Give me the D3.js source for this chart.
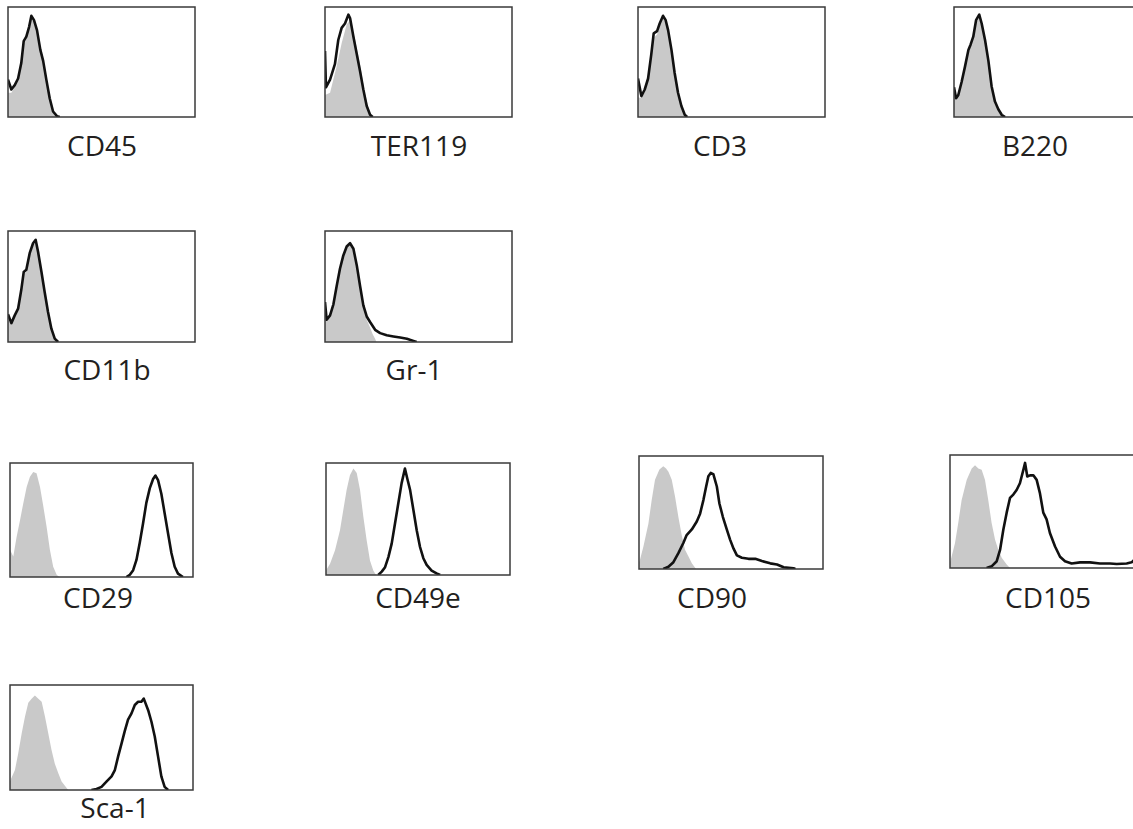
<!DOCTYPE html>
<html>
<head>
<meta charset="utf-8">
<script src="https://cdn.jsdelivr.net/npm/d3@7"></script>
<style>
  body { margin: 0; background: #fff; }
  svg { display: block; }
</style>
</head>
<body>
<svg id="chart" width="1133" height="829"></svg>
<script>
// marker names, in reading order
const markers = ["CD45", "TER119", "CD3", "B220", "CD11b", "Gr-1",
                 "CD29", "CD49e", "CD90", "CD105", "Sca-1"];

// histograms: [channel (0-100), % of box height]
// grey = isotype control, black line = stained sample
const cd45Control = [[0,22],[1.8,22],[3.6,27],[5.4,33],[7.1,47],[8.4,66],[9.8,71],[11.3,80],[12.5,89],[13.9,86],[15.5,77],[17.3,59],[18.8,49],[20.5,32],[22.3,15],[24.1,4],[26,0]];
const cd45Stained = [[0,34],[1.8,25],[3.6,29],[5.4,35],[7.1,49],[8.4,69],[9.8,73],[11.3,82],[12.5,92],[13.9,88],[15.5,79],[17.3,61],[18.8,51],[20.5,34],[22.3,17],[24.1,5],[26.3,0.6],[27.7,0]];

const ter119Control = [[0,20],[2.7,22],[6.2,46],[8.9,67],[11.6,84],[13.4,88],[16,71],[18.7,48],[21.4,21],[24,3],[25.8,0]];
const ter119Stained = [[0,60],[0.5,27],[2.7,34],[5.3,48],[7.1,70],[8.9,81],[10.7,85],[12.5,93],[13.4,90],[15.2,73],[16.9,58],[18.7,42],[20.5,25],[22.3,10],[24.1,2],[25.5,0]];

const cd3Control = [[0,18],[1.8,17],[3.6,23],[5.4,33],[7.1,55],[8.4,72],[10.2,75],[11.6,83],[13.4,90],[14.8,86],[16.1,77],[17.9,59],[19.6,38],[21.4,20],[23.2,8],[25,1.5],[26,0]];
const cd3Stained = [[0,35],[1.8,19],[3.6,25],[5.4,35],[7.1,57],[8.4,76],[10.2,78],[11.6,85],[13.4,92],[14.8,88],[16.1,79],[17.9,61],[19.6,40],[21.4,22],[23.2,10],[25,2],[26.3,0]];

const b220Control = [[0,22],[1.1,16],[2.3,19],[4.1,30],[5.9,44],[7.7,59],[8.9,64],[10.3,71],[11.8,86],[13.5,91],[14.8,83],[16.6,68],[18.4,49],[20.1,26],[21.9,12],[23.7,5],[25.5,1],[27,0]];
const b220Stained = [[0,27],[1.1,17],[2.3,20],[4.1,32],[5.9,46],[7.7,61],[8.9,66],[10.3,73],[11.8,88],[13.5,93],[14.8,85],[16.6,70],[18.4,51],[20.1,28],[21.9,14],[23.7,7],[25.5,2],[27.3,0]];

const cd11bControl = [[0,20],[1.8,16],[3.6,23],[5.4,29],[7.1,45],[8.4,61],[9.8,63],[11.6,78],[13.4,87],[14.8,90],[16.1,79],[17.9,61],[19.6,43],[21.4,25],[23.2,10],[25,2],[26.5,0]];
const cd11bStained = [[0,25],[1.8,17],[3.6,24],[5.4,30],[7.1,47],[8.4,63],[9.8,65],[11.6,80],[13.4,89],[14.8,92],[16.1,81],[17.9,63],[19.6,45],[21.4,27],[23.2,12],[25,3],[26.8,0]];

const gr1Control = [[0,20],[0.9,19],[2.7,23],[4.5,33],[6.2,49],[8,65],[9.8,77],[11.6,85],[13.4,88],[15.2,83],[17,67],[18.8,48],[20.5,31],[22.3,20],[24.1,13],[25.5,7],[26.8,3],[27.5,0]];
const gr1Stained = [[0,36],[0.9,20],[2.7,24],[4.5,34],[6.2,50],[8,66],[9.8,78],[11.6,86],[13.4,89],[15.2,84],[17,69],[18.8,50],[20.5,33],[22.3,23],[24.1,18],[26.8,11],[29.5,8],[33,6],[36.6,5],[40.2,4],[43.8,3],[47.3,1],[49,0]];

const cd29Control = [[0,24],[1.8,18],[3.6,35],[5.5,50],[7.3,65],[9.1,79],[10.9,88],[12.7,92],[14.5,91],[16.4,79],[18.2,62],[20,44],[21.8,24],[23.6,9],[25.5,2],[26.9,0]];
const cd29Stained = [[63.6,0],[65.5,2],[67.3,6],[69.1,15],[70.9,30],[72.7,47],[74.5,65],[76.4,78],[78.2,86],[79.5,89],[80.9,85],[82.7,73],[84.5,56],[86.4,38],[88.2,21],[90,9],[91.8,3],[94.5,0]];

const cd49eControl = [[0,4],[2.2,10],[4.9,22],[7.6,40],[9.4,58],[11.2,76],[13,89],[14.9,95],[16.7,91],[18.5,76],[20.3,52],[22.1,31],[23.9,13],[25.7,4],[27.2,0]];
const cd49eStained = [[28.4,0],[30.3,3],[32.1,7],[33.9,16],[35.7,28],[37.5,46],[39.3,64],[41.1,82],[42.9,95],[44.2,86],[45.7,76],[47.5,58],[49.3,40],[51.1,25],[52.9,15],[54.7,9],[57.4,4],[60.1,1.5],[62,0]];

const cd90Control = [[0,6],[0.5,8],[2.4,20],[5.1,40],[6.9,61],[8.7,79],[11.1,88],[13.2,91],[14.7,89],[16,86],[17.8,79],[19.6,64],[21.4,46],[23.2,30],[25,17],[26.9,11],[28.7,5],[31,0]];
const cd90Stained = [[13.2,0],[16,2],[18.7,6],[21.4,14],[24.1,23],[25.9,30],[28.7,35],[31.4,42],[33.2,49],[35,61],[36.5,73],[37.7,82],[39,85],[40.4,84],[42.3,73],[43.7,58],[45.6,46],[47.7,35],[49.5,26],[51.4,18],[53.2,12],[55.9,10],[59.5,9],[63.2,9],[66.8,7],[71.3,5],[75,4],[78.6,1.5],[84,0.6],[85,0]];

const cd105Control = [[0,5],[0.4,7],[2.7,22],[4.5,40],[6.3,60],[9.1,78],[11.8,88],[13.6,91],[15.4,88],[17.2,87],[19,78],[20.8,60],[22.6,40],[24.5,25],[26.3,16],[28.1,9],[30.8,3],[32.6,0]];
const cd105Stained = [[19.9,0],[22.6,1.5],[25.4,6],[27.2,16],[29,34],[30.8,49],[32.6,62],[34.4,65],[36.2,69],[38,75],[39.9,87],[40.8,93],[42,81],[43.5,82],[45.3,82],[47.1,78],[48.9,66],[50.7,49],[52.5,43],[54.3,31],[57.1,19],[59.8,10],[62.5,6],[66.1,4],[70.7,5],[76.1,5],[81.5,4],[87,4],[90.6,3.5],[96,4],[98.7,5],[100,7]];

const sca1Control = [[0,8],[0.4,10],[2.7,19],[4.5,35],[6.4,54],[8.2,70],[10,83],[11.8,87],[13.6,90],[15.5,87],[17.3,84],[19.1,70],[20.9,54],[22.7,38],[24.5,25],[26.4,16],[28.2,8],[30,4],[31.8,0]];
const sca1Stained = [[44.5,0],[47.3,1],[50,3],[52.7,8],[55.5,13],[57.3,19],[59.1,32],[60.9,44],[62.7,56],[64.5,67],[66.4,73],[68.2,81],[70,84],[71.8,84],[73.1,87],[75.5,76],[77.3,65],[79.1,51],[80.9,32],[82.7,13],[84.5,3],[86.4,0]];

const controls = [cd45Control, ter119Control, cd3Control, b220Control, cd11bControl, gr1Control,
                  cd29Control, cd49eControl, cd90Control, cd105Control, sca1Control];
const stained = [cd45Stained, ter119Stained, cd3Stained, b220Stained, cd11bStained, gr1Stained,
                 cd29Stained, cd49eStained, cd90Stained, cd105Stained, sca1Stained];

// panel layout: box x, y, w, h and label centre / baseline
const layout = [
  { x: 8,   y: 7,   w: 187, h: 110, lx: 102,  ly: 156 },
  { x: 325, y: 7,   w: 187, h: 110, lx: 419,  ly: 156 },
  { x: 638, y: 7,   w: 187, h: 110, lx: 720,  ly: 156 },
  { x: 954, y: 7,   w: 187, h: 110, lx: 1035, ly: 156 },
  { x: 8,   y: 231, w: 187, h: 111, lx: 107,  ly: 380 },
  { x: 325, y: 231, w: 187, h: 111, lx: 414,  ly: 380 },
  { x: 10,  y: 463, w: 183, h: 114, lx: 98,   ly: 608 },
  { x: 326, y: 463, w: 184, h: 112, lx: 418,  ly: 608 },
  { x: 639, y: 456, w: 184, h: 113, lx: 712,  ly: 608 },
  { x: 950, y: 455, w: 184, h: 113, lx: 1048, ly: 608 },
  { x: 10,  y: 685, w: 183, h: 105, lx: 115,  ly: 818 }
];

const svg = d3.select("#chart");

markers.forEach(function(name, i) {
    const L = layout[i];
    const x = d3.scaleLinear().domain([0, 100]).range([0, L.w]);
    const y = d3.scaleLinear().domain([0, 100]).range([L.h, 0]);

    const g = svg.append("g")
        .attr("transform", `translate(${L.x},${L.y})`);

    const clipId = "clip-" + i;
    g.append("clipPath").attr("id", clipId)
      .append("rect")
        .attr("width", L.w)
        .attr("height", L.h);

    const plot = g.append("g").attr("clip-path", `url(#${clipId})`);

    const area = d3.area()
        .x(d => x(d[0]))
        .y0(y(0))
        .y1(d => y(d[1]));

    const line = d3.line()
        .x(d => x(d[0]))
        .y(d => y(d[1]));

    plot.append("path")
        .datum(controls[i])
        .attr("d", area)
        .attr("fill", "#c9c9c9");

    plot.append("path")
        .datum(stained[i])
        .attr("d", line)
        .attr("fill", "none")
        .attr("stroke", "#111")
        .attr("stroke-width", 2.6)
        .attr("stroke-linejoin", "round");

    g.append("rect")
        .attr("width", L.w)
        .attr("height", L.h)
        .attr("fill", "none")
        .attr("stroke", "#3a3a3a")
        .attr("stroke-width", 1.5);

    svg.append("text")
        .attr("x", L.lx)
        .attr("y", L.ly)
        .attr("text-anchor", "middle")
        .style("font-family", "'Open Sans', sans-serif")
        .style("font-size", "28px")
        .attr("fill", "#231f20")
        .text(name);
});
</script>
</body>
</html>
